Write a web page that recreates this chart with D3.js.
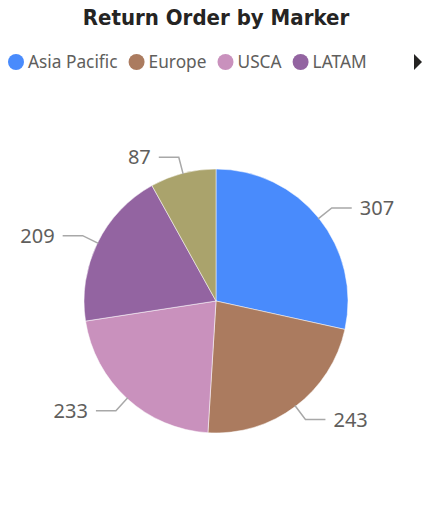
<!DOCTYPE html>
<html>
<head>
<meta charset="utf-8">
<script src="https://cdn.jsdelivr.net/npm/d3@7"></script>
<style>
  body { margin: 0; background: #fff; }
  svg { display: block; }
</style>
</head>
<body>
<svg id="chart" width="432" height="519"></svg>
<script>
// chart data
var markets = ["Asia Pacific", "Europe", "USCA", "LATAM", "Africa"];
var returnOrders = [307, 243, 233, 209, 87];
var sliceColors = ["#498bfc", "#ab7b5f", "#c991bd", "#9364a1", "#aaa36c"];
var legendShown = 4; // the rest is behind the arrow

var width = 432, height = 519;
var cx = 216, cy = 301, radius = 132;
var textColor = "#605e5c";

var svg = d3.select("#chart");

// title
var title = svg.append("text")
	.attr("x", 216)
	.attr("y", 25)
	.attr("text-anchor", "middle")
	.attr("font-family", "DejaVu Sans Condensed, DejaVu Sans, sans-serif")
	.attr("font-weight", "bold")
	.attr("font-size", 22)
	.attr("fill", "#252423")
	.text("Return Order by Marker");
var tw = title.node().getComputedTextLength();
if (Math.abs(tw - 268) > 6) {
	title.attr("textLength", 268).attr("lengthAdjust", "spacingAndGlyphs");
}

// legend
var legend = svg.append("g").attr("transform", "translate(0,62)");
var lx = 8;
for (var i = 0; i < legendShown; i++) {
	var item = legend.append("g").attr("transform", "translate(" + lx + ",0)");
	item.append("circle")
		.attr("cx", 8)
		.attr("cy", 0)
		.attr("r", 8)
		.attr("fill", sliceColors[i]);
	var t = item.append("text")
		.attr("x", 20)
		.attr("y", 6)
		.attr("font-family", "Noto Sans, sans-serif")
		.attr("font-size", 17.3)
		.attr("fill", textColor)
		.text(markets[i]);
	lx += 20 + t.node().getComputedTextLength() + 11;
}
// scroll arrow
svg.append("path")
	.attr("d", "M414,54 L422,62 L414,70 Z")
	.attr("fill", "#252423");

// pie
var pie = d3.pie().sort(null).value(function(d){ return d; });
var arcs = pie(returnOrders);
var arc = d3.arc().innerRadius(0).outerRadius(radius);

var g = svg.append("g").attr("transform", "translate(" + cx + "," + cy + ")");

g.selectAll("path.slice")
	.data(arcs)
	.enter().append("path")
	.attr("class", "slice")
	.attr("d", arc)
	.attr("fill", function(d, i){ return sliceColors[i]; })
	.attr("stroke", "#fff")
	.attr("stroke-width", 0.5);

// leader lines and labels
var lead = 16.5, hor = 20, gap = 8;
arcs.forEach(function(d, i){
	var a = (d.startAngle + d.endAngle) / 2;
	var sx = Math.sin(a), sy = -Math.cos(a);
	var p0 = [sx * (radius - 1), sy * (radius - 1)];
	var p1 = [sx * (radius + lead), sy * (radius + lead)];
	var right = sx >= 0;
	var p2 = [p1[0] + (right ? hor : -hor), p1[1]];
	g.append("polyline")
		.attr("points", [p0, p1, p2].map(function(p){ return p.join(","); }).join(" "))
		.attr("fill", "none")
		.attr("stroke", "#a8a8a8")
		.attr("stroke-width", 1.5);
	g.append("text")
		.attr("x", p2[0] + (right ? gap : -gap))
		.attr("y", p2[1])
		.attr("dy", "0.35em")
		.attr("text-anchor", right ? "start" : "end")
		.attr("font-family", "Noto Sans, sans-serif")
		.attr("font-size", 20)
		.attr("fill", textColor)
		.text(returnOrders[i]);
});
</script>
</body>
</html>
